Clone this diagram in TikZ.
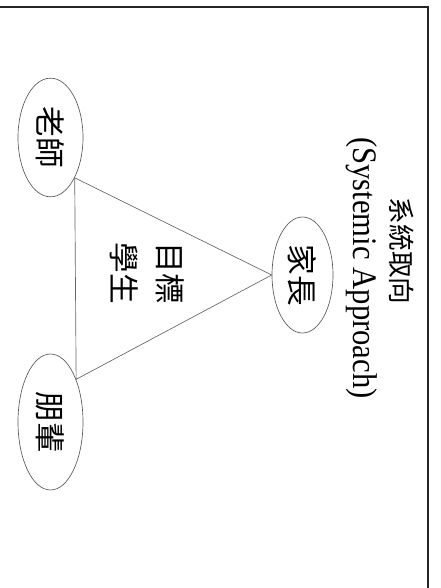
\documentclass[tikz,border=0pt]{standalone}
\usepackage{fontspec}
\setmainfont{Liberation Serif}
\newfontfamily\cjk{Noto Sans CJK TC}
\usetikzlibrary{shapes.geometric}
\tikzset{
  role/.style={ellipse, draw=black!65, line width=0.5pt, inner sep=0pt,
    rotate=-90, font=\cjk\fontsize{23}{27}\selectfont},
  rotlabel/.style={rotate=-90, inner sep=0pt, align=center},
  link/.style={draw=black!60, line width=0.5pt},
  frameline/.style={draw=black!85, line width=1.1pt}
}
\begin{document}
\begin{tikzpicture}[x=0.75pt,y=-0.75pt]
\useasboundingbox (0,0) rectangle (440,588);
\coordinate (ftl) at (0,7);
\coordinate (ftr) at (428,7);
\coordinate (fbr) at (428,588);
\draw[frameline] (ftl) -- (ftr) -- (fbr);
% title
\node[rotlabel, font=\cjk\fontsize{20}{24}\selectfont] (t1) at (402,251) {系統取向};
\node[rotlabel, yscale=1.12, font=\fontsize{23}{27}\selectfont] (t2) at (362,268) {(Systemic Approach)};
% roles
\node[role, minimum width=89pt, minimum height=48.75pt] (laoshi) at (50.5,137.5) {老師};
\node[role, minimum width=102pt, minimum height=48.75pt] (pengbei) at (50.5,422) {朋輩};
\node[role, minimum width=87pt, minimum height=45.75pt] (jiazhang) at (302.5,275) {家長};
% triangle
\draw[link] (laoshi.31.8) -- (jiazhang.south) -- (pengbei.149.5) -- cycle;
% centre
\node[rotlabel, font=\cjk\fontsize{23}{34.5}\selectfont] (goal) at (147,273) {目標\\學生};
\end{tikzpicture}
\end{document}
